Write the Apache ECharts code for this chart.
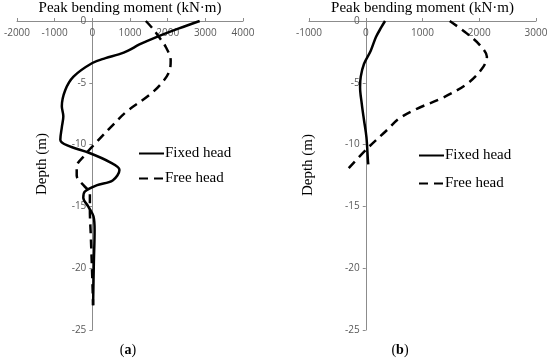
<!DOCTYPE html>
<html>
<head>
<meta charset="utf-8">
<script src="https://cdn.jsdelivr.net/npm/echarts@6/dist/echarts.min.js"></script>
<style>html,body{margin:0;padding:0;background:#fff;}#c{width:550px;height:360px;}</style>
</head>
<body>
<div id="c"></div>
<script>
// ---- data (x = peak bending moment kN·m, y = depth m) ----
const seriesNames = ['Fixed head', 'Free head'];
const xTitle = 'Peak bending moment (kN\u00b7m)';
const yTitle = 'Depth (m)';
const captions = ['a', 'b'];

const fixedA = [[2850,0],[2300,-0.6],[1700,-1.3],[1250,-1.9],[950,-2.4],[700,-2.7],[350,-3.0],[0,-3.4],[-500,-4.5],[-720,-5.6],[-810,-6.9],[-770,-7.7],[-810,-8.6],[-850,-9.6],[-680,-10.05],[-60,-10.7],[450,-11.4],[720,-12.05],[540,-12.9],[110,-13.3],[-200,-13.8],[-240,-14.3],[-110,-15.0],[30,-15.8],[60,-16.9],[40,-19.6],[20,-23]];
const freeA = [[1420,0],[1600,-0.6],[1760,-1.25],[1950,-2.1],[2080,-3.2],[2040,-4.1],[1820,-5.1],[1510,-6.0],[900,-7.35],[550,-8.4],[110,-9.8],[-200,-10.85],[-415,-11.8],[-415,-12.5],[-200,-13.4],[-65,-13.9],[-65,-15.3],[-40,-17.4],[0,-20.9],[20,-23]];
const fixedB = [[340,0],[275,-0.5],[180,-1.3],[88,-2.4],[-30,-3.46],[-88,-4.5],[-100,-5.35],[-70,-6.7],[-30,-8.05],[12,-9.4],[40,-11.4],[45,-11.6]];
const freeB = [[1480,0],[1780,-1.0],[2020,-2.0],[2135,-2.9],[2050,-3.85],[1780,-5.1],[1316,-6.3],[900,-7.1],[585,-7.9],[380,-8.8],[30,-10.3],[-300,-11.9]];

const xRangeA = [-2000, 4000];
const xRangeB = [-1000, 3000];
const yRange = [-25, 0];

const serif = 'Liberation Serif';
const sans = 'Open Sans';
const axisGray = '#8c8c8c';
const labelGray = '#595959';

const grids = [
  { left: 17, top: 21, width: 226, height: 309, containLabel: false, outerBoundsMode: 'none' },
  { left: 309, top: 21, width: 227, height: 309, containLabel: false, outerBoundsMode: 'none' }
];

function xAxis(gi, range) {
  return {
    type: 'value', gridIndex: gi, position: 'top', min: range[0], max: range[1], interval: 1000,
    name: xTitle, nameLocation: 'middle', nameGap: 5,
    nameTextStyle: { fontFamily: serif, fontSize: 15, color: '#000' },
    axisLine: { onZero: false, lineStyle: { color: axisGray, width: 1 } },
    axisTick: { show: true, length: 3, lineStyle: { color: axisGray } },
    axisLabel: { inside: true, margin: 7, fontFamily: sans, fontSize: 10, color: labelGray,
      formatter: function (v) { return String(v); } },
    splitLine: { show: false }
  };
}
// y axis crosses the x axis at moment = 0
function yAxis(gi, range) {
  const zeroOffset = -(0 - range[0]) / (range[1] - range[0]) * grids[gi].width;
  return {
    type: 'value', gridIndex: gi, position: 'left', offset: zeroOffset,
    min: yRange[0], max: yRange[1], interval: 5,
    axisLine: { onZero: false, lineStyle: { color: axisGray, width: 1 } },
    axisTick: { show: true, length: 3, lineStyle: { color: axisGray } },
    axisLabel: { margin: 6, fontFamily: sans, fontSize: 10, color: labelGray },
    splitLine: { show: false }
  };
}
function line(name, data, xi, dashed) {
  return {
    type: 'line', name: name, xAxisIndex: xi, yAxisIndex: xi, data: data,
    smooth: 0.35, showSymbol: false, symbol: 'none',
    lineStyle: { color: '#000', width: 2.5, type: dashed ? [9, 6] : 'solid' },
    itemStyle: { color: '#000' }
  };
}
function legend(left, top, gap) {
  return {
    data: seriesNames, orient: 'vertical', left: left, top: top, itemGap: gap, padding: 0,
    itemWidth: 25, itemHeight: 14, selectedMode: false,
    itemStyle: { color: 'rgba(0,0,0,0)', borderWidth: 0, opacity: 0 },
    lineStyle: { type: 'inherit' },
    textStyle: { fontFamily: serif, fontSize: 15, color: '#000', padding: [0,0,0,-4] }
  };
}

const chart = echarts.init(document.getElementById('c'));
chart.setOption({
  animation: false,
  backgroundColor: '#fff',
  grid: grids,
  xAxis: [xAxis(0, xRangeA), xAxis(1, xRangeB)],
  yAxis: [yAxis(0, xRangeA), yAxis(1, xRangeB)],
  legend: [legend(138, 146, 10), legend(418, 148, 13)],
  series: [
    line(seriesNames[0], fixedA, 0, false),
    line(seriesNames[1], freeA, 0, true),
    line(seriesNames[0], fixedB, 1, false),
    line(seriesNames[1], freeB, 1, true)
  ],
  graphic: [
    { type: 'text', x: 42, y: 164, rotation: Math.PI / 2,
      style: { text: yTitle, font: '15px "Liberation Serif"', fill: '#000', align: 'center', verticalAlign: 'middle' } },
    { type: 'text', x: 308, y: 165, rotation: Math.PI / 2,
      style: { text: yTitle, font: '15px "Liberation Serif"', fill: '#000', align: 'center', verticalAlign: 'middle' } },
    { type: 'text', x: 128, y: 350,
      style: { text: '({b|' + captions[0] + '})', font: '14px "Liberation Serif"', fill: '#000', align: 'center', verticalAlign: 'middle',
        rich: { b: { fontWeight: 'bold', fontFamily: serif, fontSize: 14 } } } },
    { type: 'text', x: 400, y: 350,
      style: { text: '({b|' + captions[1] + '})', font: '14px "Liberation Serif"', fill: '#000', align: 'center', verticalAlign: 'middle',
        rich: { b: { fontWeight: 'bold', fontFamily: serif, fontSize: 14 } } } }
  ]
});
</script>
</body>
</html>
